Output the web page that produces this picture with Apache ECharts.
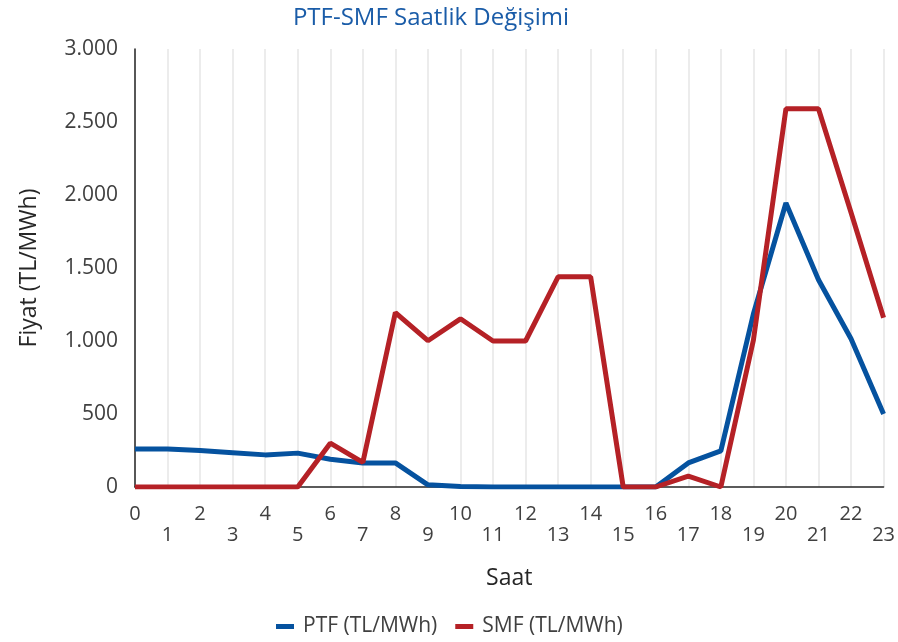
<!DOCTYPE html>
<html>
<head>
<meta charset="utf-8">
<script src="https://cdn.jsdelivr.net/npm/echarts@6/dist/echarts.min.js"></script>
<style>
  html, body { margin: 0; padding: 0; background: #fff; }
  #chart { width: 898px; height: 642px; }
</style>
</head>
<body>
<div id="chart"></div>
<script>
// saatler 0..23
const hours = ['0', '1', '2', '3', '4', '5', '6', '7', '8', '9', '10', '11',
  '12', '13', '14', '15', '16', '17', '18', '19', '20', '21', '22', '23']
const ptf = [260, 260, 250, 235, 220, 232, 190, 165, 165, 15, 3, 0,
  0, 0, 0, 0, 0, 165, 247, 1185, 1945, 1420, 1015, 500]
const smf = [0, 0, 0, 0, 0, 0, 300, 168, 1195, 1002, 1152, 1000,
  1000, 1440, 1440, 0, 0, 75, 0, 1005, 2590, 2590, 1880, 1160]

const fontFamily = '"Open Sans", "Noto Sans", sans-serif'

const myChart = echarts.init(document.getElementById('chart'))
myChart.setOption({
  backgroundColor: '#fff',
  animation: false,
  textStyle: { fontFamily: fontFamily },
  title: {
    text: 'PTF-SMF Saatlik Değişimi',
    left: 426,
    textAlign: 'center',
    top: 1,
    textStyle: { color: '#1a5ca8', fontSize: 24, fontWeight: 'normal', fontFamily: fontFamily }
  },
  grid: { left: 135, right: 8, top: 49, bottom: 155 },
  legend: {
    top: 611,
    left: 271,
    icon: 'rect',
    itemWidth: 18,
    itemHeight: 5,
    itemGap: 18,
    textStyle: { color: '#404040', fontSize: 21, fontFamily: fontFamily, padding: [0, 0, 0, 4] },
    data: ['PTF (TL/MWh)', 'SMF (TL/MWh)']
  },
  xAxis: {
    type: 'category',
    data: hours,
    boundaryGap: false,
    name: 'Saat',
    nameLocation: 'middle',
    nameGap: 80,
    nameTextStyle: { color: '#262626', fontSize: 23, fontFamily: fontFamily },
    axisLine: { show: true, lineStyle: { color: '#262626', width: 1.5 } },
    axisTick: { show: false },
    splitLine: { show: true, lineStyle: { color: '#ececec', width: 2 } },
    axisLabel: {
      color: '#404040',
      fontSize: 20,
      margin: 17,
      lineHeight: 21,
      interval: 0,
      formatter: (v, i) => (i % 2 ? '\n' + v : v)
    }
  },
  yAxis: {
    type: 'value',
    min: 0,
    max: 3000,
    interval: 500,
    name: 'Fiyat (TL/MWh)',
    nameLocation: 'middle',
    nameGap: 94,
    nameTextStyle: { color: '#262626', fontSize: 23, fontFamily: fontFamily },
    axisLine: { show: true, lineStyle: { color: '#262626', width: 1.5 } },
    axisTick: { show: false },
    splitLine: { show: false },
    axisLabel: {
      color: '#404040',
      fontSize: 21,
      margin: 17,
      formatter: v => String(v).replace(/\B(?=(\d{3})+(?!\d))/g, '.')
    }
  },
  series: [
    {
      name: 'PTF (TL/MWh)',
      type: 'line',
      data: ptf,
      symbol: 'none',
      lineStyle: { width: 5, color: '#05529f' },
      itemStyle: { color: '#05529f' }
    },
    {
      name: 'SMF (TL/MWh)',
      type: 'line',
      data: smf,
      symbol: 'none',
      lineStyle: { width: 5, color: '#b52126' },
      itemStyle: { color: '#b52126' }
    }
  ]
})
</script>
</body>
</html>
